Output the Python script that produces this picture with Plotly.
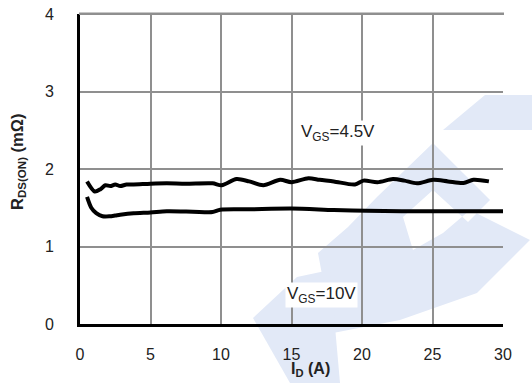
import plotly.graph_objects as go

# On-resistance vs drain current at two gate drives
id_45 = [0.5, 1.05, 1.45, 1.8, 2.15, 2.5, 2.85, 3.3, 3.8, 5.0, 6.15, 7.5, 9.4, 10.05, 11.1, 12.0, 13.0, 14.2, 15.0, 16.2, 17.0, 18.0, 19.5, 20.1, 21.1, 22.2, 23.0, 23.9, 25.05, 26.1, 27.2, 27.9, 29.0]
rds_45 = [1.84, 1.71, 1.74, 1.79, 1.78, 1.80, 1.78, 1.80, 1.80, 1.81, 1.815, 1.81, 1.815, 1.79, 1.87, 1.84, 1.79, 1.86, 1.83, 1.88, 1.86, 1.84, 1.80, 1.85, 1.83, 1.87, 1.85, 1.815, 1.86, 1.84, 1.82, 1.86, 1.84]

id_10 = [0.5, 0.8, 1.15, 1.6, 2.1, 2.5, 2.85, 3.8, 5.0, 6.15, 8.0, 9.4, 9.95, 12.0, 15.0, 18.0, 20.3, 25.0, 30.0]
rds_10 = [1.64, 1.50, 1.43, 1.39, 1.39, 1.40, 1.41, 1.43, 1.44, 1.455, 1.45, 1.445, 1.475, 1.48, 1.49, 1.47, 1.46, 1.455, 1.455]

x_ticks = [0, 5, 10, 15, 20, 25, 30]
y_ticks = [0, 1, 2, 3, 4]
x_range = [0, 30]
y_range = [0, 4]

W, H = 532, 383
L, R, T, B = 80, 29, 14, 59
PW, PH = W - L - R, H - T - B
FONT = "Liberation Sans, Arial, sans-serif"
GRID = "#8f8f8f"


def px(x, y):
    return (x - L) / PW, (H - B - y) / PH


def poly(points):
    pts = [px(x, y) for x, y in points]
    return "M " + " L ".join(f"{a:.4f},{b:.4f}" for a, b in pts) + " Z"


# faint logo behind the plot
wm = "rgb(226,233,247)"
logo = [
    [(443, 130), (485, 95), (532, 95), (532, 130)],
    [(377, 197), (433, 143), (490, 200), (468, 222), (433, 190), (403, 217), (413, 250), (443, 233), (470, 210), (530, 240), (477, 293), (400, 320), (333, 333), (318, 253), (348, 227)],
    [(253, 318), (297, 277), (330, 270), (340, 383), (290, 383)],
]

shapes = [
    dict(type="path", xref="paper", yref="paper", path=poly(p), fillcolor=wm, line=dict(width=0), layer="below")
    for p in logo
]
# top frame edge in grid grey, as a thin filled strip
shapes.append(dict(type="rect", xref="paper", yref="paper", x0=-1 / PW, x1=1 + 1 / PW,
                   y0=1 - 1 / PH, y1=1 + 1.5 / PH,
                   fillcolor=GRID, line=dict(width=0), layer="above"))

fig = go.Figure()
fig.add_trace(go.Scatter(x=id_45, y=rds_45, mode="lines", line=dict(color="black", width=4, shape="spline", smoothing=0.8), hoverinfo="skip"))
fig.add_trace(go.Scatter(x=id_10, y=rds_10, mode="lines", line=dict(color="black", width=4, shape="spline", smoothing=0.8), hoverinfo="skip"))

fig.add_annotation(x=18.3, y=2.46, text="V<sub>GS</sub>=4.5V", showarrow=False, bgcolor="white",
                   font=dict(family=FONT, size=17, color="#222"))
fig.add_annotation(x=17.1, y=0.37, text="V<sub>GS</sub>=10V", showarrow=False, bgcolor="white",
                   font=dict(family=FONT, size=17, color="#222"))

# axis titles
tx, ty = px(310, 369)
fig.add_annotation(xref="paper", yref="paper", x=tx, y=ty, xanchor="center", yanchor="middle",
                   text="<b>I<sub>D</sub> (A)</b>", showarrow=False,
                   font=dict(family=FONT, size=16, color="#222"))
ux, uy = px(18, 162)
fig.add_annotation(xref="paper", yref="paper", x=ux, y=uy, xanchor="center", yanchor="middle",
                   text="<b>R<sub>DS(ON)</sub> (mΩ)</b>", showarrow=False,
                   textangle=-90, font=dict(family=FONT, size=16.5, color="#222"))

fig.update_layout(
    width=W, height=H,
    margin=dict(l=L, r=R, t=T, b=B),
    paper_bgcolor="white", plot_bgcolor="rgba(0,0,0,0)",
    showlegend=False,
    shapes=shapes,
    font=dict(family=FONT, size=16, color="#222"),
    xaxis=dict(range=x_range, tickvals=x_ticks, showgrid=True, gridcolor=GRID, gridwidth=2,
               showline=True, linecolor="black", linewidth=3, zeroline=False, ticks="",
               ticklabelstandoff=14, automargin=False),
    yaxis=dict(range=y_range, tickvals=y_ticks, showgrid=True, gridcolor=GRID, gridwidth=2,
               showline=True, linecolor="black", linewidth=3, zeroline=False, ticks="",
               ticklabelstandoff=20, automargin=False),
)

fig.write_html("out.html")
